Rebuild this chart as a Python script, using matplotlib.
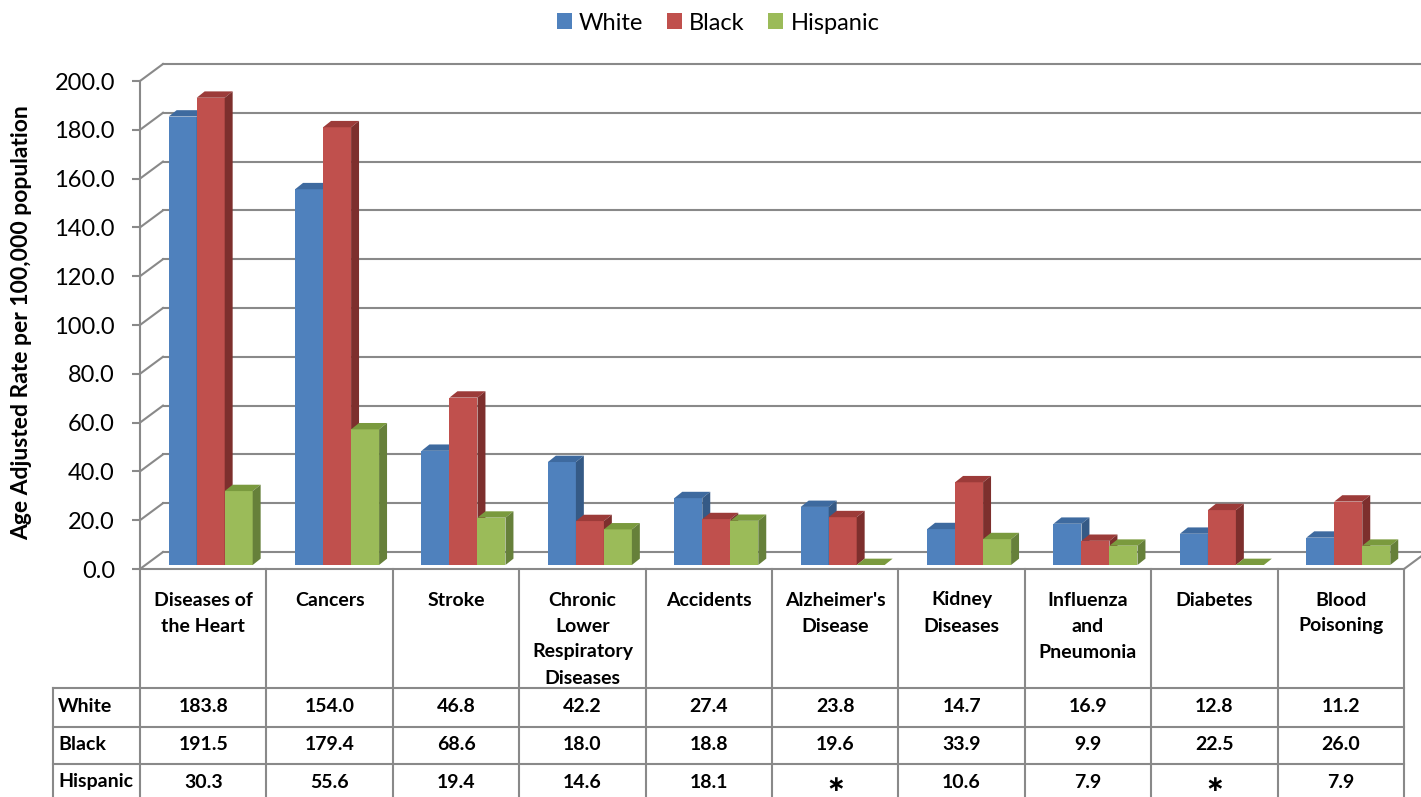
import numpy as np
import matplotlib
matplotlib.use("Agg")
import matplotlib.pyplot as plt
from matplotlib.patches import Polygon, Patch
from matplotlib.lines import Line2D

plt.rcParams['font.family'] = ['Lato', 'DejaVu Sans']

# data
categories = ["Diseases of\nthe Heart", "Cancers", "Stroke",
              "Chronic\nLower\nRespiratory\nDiseases", "Accidents",
              "Alzheimer's\nDisease", "Kidney\nDiseases",
              "Influenza\nand\nPneumonia", "Diabetes", "Blood\nPoisoning"]
series_names = ["White", "Black", "Hispanic"]
white = [183.8, 154.0, 46.8, 42.2, 27.4, 23.8, 14.7, 16.9, 12.8, 11.2]
black = [191.5, 179.4, 68.6, 18.0, 18.8, 19.6, 33.9, 9.9, 22.5, 26.0]
hispanic = [30.3, 55.6, 19.4, 14.6, 18.1, None, 10.6, 7.9, None, 7.9]
y_ticks = list(range(0, 201, 20))

front_cols = ['#4F81BD', '#C0504D', '#9BBB59']
top_cols = ['#3E6A9F', '#9C3B39', '#7A9A3E']
side_cols = ['#355A86', '#7D2F2D', '#66803A']
GRID = '#898989'

W, H = 1421, 797
fig = plt.figure(figsize=(W / 100, H / 100), dpi=100)


def fx(px):
    return px / W


def fy(py):
    return 1 - py / H


def fig_line(x1, y1, x2, y2):
    fig.add_artist(Line2D([fx(x1), fx(x2)], [fy(y1), fy(y2)],
                          transform=fig.transFigure, color=GRID, lw=1.5))


ax = fig.add_axes([fx(140), fy(569), fx(1404) - fx(140), fy(81) - fy(569)])
ax.set_xlim(0, 10)
ax.set_ylim(0, 200)

# 3d depth of the walls (data units)
DX, DY = 0.182, 6.97

for v in y_ticks:
    ax.plot([DX, 10 + DX], [v + DY, v + DY], color=GRID, lw=1.5, clip_on=False, zorder=1)
    ax.plot([0, DX], [v, v + DY], color=GRID, lw=1.5, clip_on=False, zorder=1)
ax.plot([10, 10 + DX], [0, DY], color=GRID, lw=1.5, clip_on=False, zorder=1)

# bars
bar_w = 0.2215
base = 1.64
bdx, bdy = 0.063, 2.6
start = 0.227
all_vals = [white, black, hispanic]
for k, vals in enumerate(all_vals):
    h = [0 if v is None else v for v in vals]
    x0 = np.arange(len(categories)) + start + k * bar_w
    ax.bar(x0, h, width=bar_w, bottom=base, align='edge',
           color=front_cols[k], linewidth=0, zorder=3 + k)
    for xi, hi in zip(x0, h):
        top = base + hi
        ax.add_patch(Polygon([(xi, top), (xi + bar_w, top),
                              (xi + bar_w + bdx, top + bdy), (xi + bdx, top + bdy)],
                             closed=True, facecolor=top_cols[k], lw=0, zorder=3 + k))
        if hi > 0:
            ax.add_patch(Polygon([(xi + bar_w, base), (xi + bar_w + bdx, base + bdy),
                                  (xi + bar_w + bdx, top + bdy), (xi + bar_w, top)],
                                 closed=True, facecolor=side_cols[k], lw=0, zorder=3 + k))

for s in ['top', 'right']:
    ax.spines[s].set_visible(False)
for s in ['left', 'bottom']:
    ax.spines[s].set_color(GRID)
    ax.spines[s].set_linewidth(1.5)
ax.set_xticks([])
ax.set_yticks(y_ticks)
ax.set_yticklabels(["%.1f" % v for v in y_ticks])
ax.tick_params(axis='y', length=6, width=1.5, color=GRID, pad=12, labelsize=17)
ax.set_facecolor('none')

fig.text(fx(22), fy(323), "Age Adjusted Rate per 100,000 population",
         rotation=90, ha='center', va='center', fontsize=16.5, fontweight='bold')

# data table below the plot
col_edges = np.linspace(140, 1404, len(categories) + 1)
row_lines = [688, 727, 764]
row_centers = [707, 745, 783]
for x in col_edges:
    fig_line(x, 569, x, 800)
fig_line(53, 688, 53, 800)
for y in row_lines:
    fig_line(53, y, 1404, y)

for i, cat in enumerate(categories):
    cx = (col_edges[i] + col_edges[i + 1]) / 2
    for j, line in enumerate(cat.split("\n")):
        fig.text(fx(cx), fy(600 + 26 * j), line, ha='center', va='center',
                 fontsize=14, fontweight='bold')
    for r, vals in enumerate(all_vals):
        v = vals[i]
        if v is None:
            fig.text(fx(cx), fy(791), "\u2217", ha='center', va='baseline',
                     fontsize=16, fontweight='bold', family='DejaVu Sans')
        else:
            fig.text(fx(cx), fy(row_centers[r]), "%.1f" % v, ha='center', va='center',
                     fontsize=14, fontweight='bold')

for r, name in enumerate(series_names):
    fig.text(fx(58), fy(row_centers[r] - 1), name, ha='left', va='center',
             fontsize=14, fontweight='bold')

handles = [Patch(facecolor=c, edgecolor='none', label=n) for c, n in zip(front_cols, series_names)]
fig.legend(handles=handles, loc='center', bbox_to_anchor=(fx(718), fy(23)), ncol=3,
           frameon=False, fontsize=17, handlelength=0.64, handleheight=0.64,
           handletextpad=0.3, columnspacing=1.0, borderaxespad=0)

fig.savefig("out.png", dpi=100)
